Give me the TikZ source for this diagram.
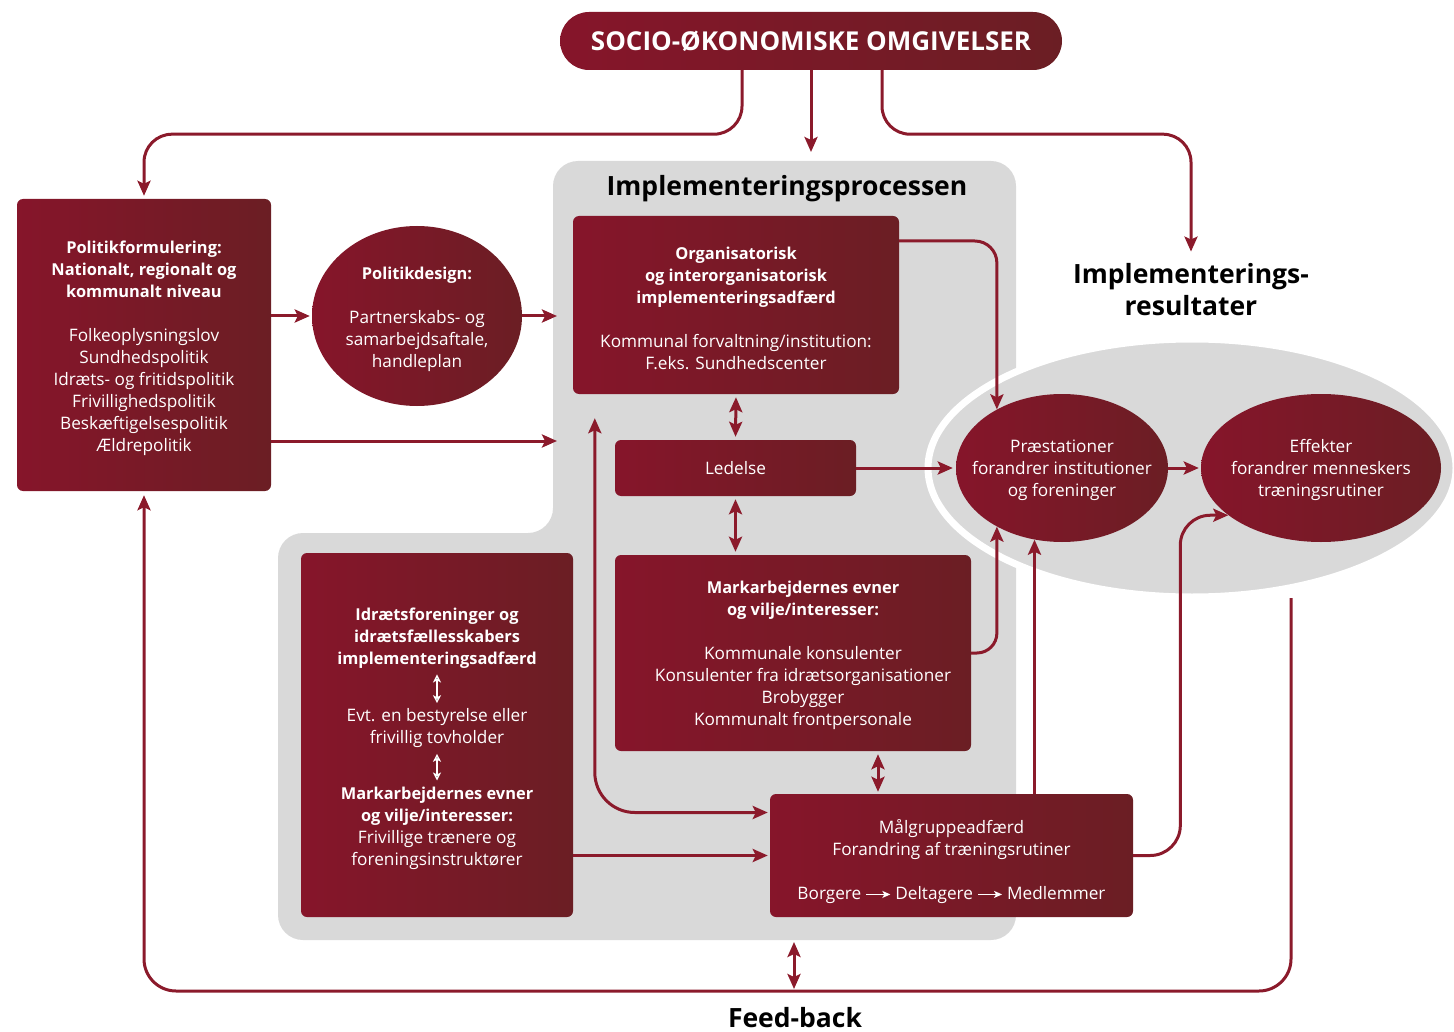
\documentclass[tikz,border=0pt]{standalone}
\usepackage{fontspec}
\setmainfont{Open Sans}
\usetikzlibrary{arrows.meta,shapes.geometric,calc}

\definecolor{wine}{HTML}{86152A}
\definecolor{winedark}{HTML}{6B1E24}
\definecolor{conncol}{HTML}{8B1A2B}
\definecolor{procgray}{HTML}{D9D9D9}

\newcommand\bodyfont{\fontsize{17.2}{22}\selectfont}
\newcommand\boldline[1]{{\fontsize{16.4}{22}\selectfont\bfseries #1}}
\newcommand\headfont{\fontsize{26.5}{32}\selectfont\bfseries}
\newcommand\flowarrow{\tikz[baseline=-0.6ex,x=1pt,y=1pt]\draw[white,line width=1.2pt,-{Stealth[length=8pt,width=7pt,inset=2pt]}] (0,0) -- (24,0);}

\begin{document}
\begin{tikzpicture}[x=1pt,y=-1pt,
  box/.style={rectangle, rounded corners=6pt, left color=wine, right color=winedark,
    text=white, align=center, inner sep=0pt, font=\bodyfont},
  oval/.style={ellipse, left color=wine, right color=winedark, inner sep=0pt},
  ovaltext/.style={text=white, align=center, font=\bodyfont, inner sep=0pt},
  conn/.style={draw=conncol, line width=3pt, rounded corners=28pt,
    -{Stealth[length=15pt,width=13pt,inset=3pt]}},
  biconn/.style={draw=conncol, line width=3pt,
    {Stealth[length=15pt,width=13pt,inset=3pt]}-{Stealth[length=15pt,width=13pt,inset=3pt]}},
  whitebi/.style={draw=white, line width=1.4pt,
    {Stealth[length=8pt,width=8pt,inset=2pt]}-{Stealth[length=8pt,width=8pt,inset=2pt]}},
  heading/.style={text=black, align=center, font=\headfont, inner sep=0pt},
]
\useasboundingbox (0,0) rectangle (1454,1032);

% implementation process background
\fill[procgray, rounded corners=25pt]
  (750,161) -- (1016,161) -- (1016,940) -- (278,940) -- (278,533)
  -- (553,533) -- (553,161) -- cycle;
\coordinate (procT) at (811,152);
\coordinate (procB) at (794,940);

% results background
\begin{scope}
  \clip (0,0) rectangle (1454,1032);
  \filldraw[fill=procgray, draw=white, line width=7pt] (1192,468) ellipse [x radius=264, y radius=129];
\end{scope}
\coordinate (resB) at (1291,598);

% headings
\node[box, rounded corners=29pt, minimum width=502pt, minimum height=58pt,
  font=\fontsize{26}{28}\selectfont\bfseries] (soc) at (811,41) {SOCIO-ØKONOMISKE OMGIVELSER};
\node[heading] (proc) at (787,189) {Implementeringsprocessen};
\node[heading] (res) at (1191,290) {Implementerings-\\resultater};
\node[heading] (fb) at (795,1018) {Feed-back};

% policy side
\node[box, minimum width=254pt, minimum height=292pt] (pol) at (144,345) {};
\node[ovaltext] (polt) at (144,348)
  {\boldline{Politikformulering:}\\\boldline{Nationalt, regionalt og}\\\boldline{kommunalt niveau}\\[22pt]
   Folkeoplysningslov\\Sundhedspolitik\\Idræts- og fritidspolitik\\Frivillighedspolitik\\
   Beskæftigelsespolitik\\Ældrepolitik};
\node[oval, minimum width=210pt, minimum height=180pt] (pd) at (417,316) {};
\node[ovaltext] (pdt) at (417,319)
  {\boldline{Politikdesign:}\\[22pt]Partnerskabs- og\\samarbejdsaftale,\\handleplan};

% implementation process boxes
\node[box, minimum width=326pt, minimum height=178pt] (org) at (736,305) {};
\node[ovaltext] (orgt) at (736,308)
  {\boldline{Organisatorisk}\\\boldline{og interorganisatorisk}\\\boldline{implementeringsadfærd}\\[22pt]
   Kommunal forvaltning/institution:\\F.eks. Sundhedscenter};
\node[box, minimum width=241pt, minimum height=56pt] (led) at (735.5,468) {Ledelse};
\node[box, minimum width=356pt, minimum height=196pt] (mark) at (793,653) {};
\node[ovaltext] (markt) at (803,655)
  {\boldline{Markarbejdernes evner}\\\boldline{og vilje/interesser:}\\[22pt]
   Kommunale konsulenter\\Konsulenter fra idrætsorganisationer\\Brobygger\\Kommunalt frontpersonale};
\node[box, minimum width=272pt, minimum height=364pt] (id) at (437,735) {};
\node[ovaltext] (id1) at (437,638)
  {\boldline{Idrætsforeninger og}\\\boldline{idrætsfællesskabers}\\\boldline{implementeringsadfærd}};
\node[ovaltext] (id2) at (437,728) {Evt. en bestyrelse eller\\frivillig tovholder};
\node[ovaltext] (id3) at (437,828)
  {\boldline{Markarbejdernes evner}\\\boldline{og vilje/interesser:}\\Frivillige trænere og\\foreningsinstruktører};
\node[box, minimum width=363pt, minimum height=123pt] (mal) at (951.5,855.5) {};
\node[ovaltext] (malt) at (951.5,862)
  {Målgruppeadfærd\\Forandring af træningsrutiner\\[22pt]
   Borgere \flowarrow{} Deltagere \flowarrow{} Medlemmer};

% results
\node[oval, minimum width=212pt, minimum height=148pt] (pre) at (1062,468) {};
\node[ovaltext] (pret) at (1062,470) {Præstationer\\forandrer institutioner\\og foreninger};
\node[oval, minimum width=240pt, minimum height=148pt] (eff) at (1321,468) {};
\node[ovaltext] (efft) at (1321,470) {Effekter\\forandrer menneskers\\træningsrutiner};

% connectors from the socio-economic setting
\draw[conn, shorten >=3pt] ([xshift=-69pt]soc.south) -- ++(0,64) -| (pol.north);
\draw[conn] (soc.south) -- (procT);
\draw[conn] ([xshift=71pt]soc.south) -- ++(0,64) -| ([yshift=12pt]res.north);

% policy connectors
\draw[conn, shorten >=2pt] (pd.west -| pol.east) -- (pd.west);
\coordinate (procL) at (557,316);
\draw[conn] (pd.east) -- (procL);
\draw[conn] ([yshift=-96pt]pol.east) -- ([yshift=-96pt]pol.east -| procL);

% inside the process
\draw[biconn, shorten <=3pt, shorten >=3pt] (org.south) -- (led.north);
\draw[biconn, shorten <=3pt, shorten >=3pt] (led.south) -- (led.south |- mark.north);
\draw[biconn, shorten <=3pt, shorten >=2pt] ([xshift=85pt]mark.south) -- ([xshift=85pt]mark.south |- mal.north);
\draw[biconn, rounded corners=40pt, shorten >=2pt] ([xshift=22pt,yshift=-24pt]org.south west) |- ([yshift=43pt]mal.west);
\draw[conn, shorten >=2pt] (id.east |- mal.west) -- (mal.west);
\draw[whitebi] ([yshift=-6pt]id1.south) -- ([yshift=5pt]id2.north);
\draw[whitebi] ([yshift=-6pt]id2.south) -- ([yshift=6pt]id3.north);

% towards the results
\draw[conn, rounded corners=22pt] ([yshift=64pt]org.east) -| (pre.138);
\draw[conn, shorten >=3pt] (led.east) -- (pre.west);
\draw[conn, rounded corners=20pt] (mark.east) -| (pre.222);
\draw[conn] (mal.north -| pre.249) -- (pre.249);
\draw[conn, shorten >=2pt] (pre.east) -- (eff.west);
\draw[conn, rounded corners=30pt] (mal.east) -| ($(eff.207)+(-48,0)$) -- (eff.207);

% feedback loop
\coordinate (fbB) at (794,991);
\draw[conn, rounded corners=32pt, shorten >=4pt] (resB) |- (fbB) -| (pol.south);
\draw[biconn, shorten <=2pt, shorten >=2pt] (procB) -- (fbB);
\end{tikzpicture}
\end{document}
